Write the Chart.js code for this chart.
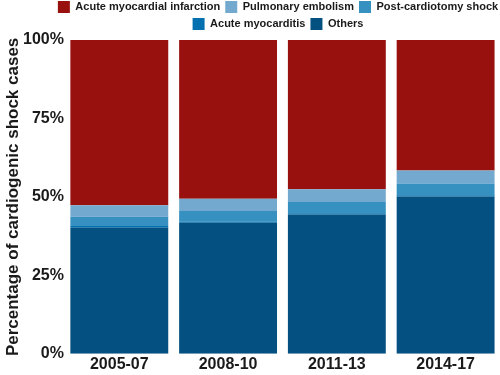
<!DOCTYPE html>
<html><head><meta charset="utf-8">
<script src="https://cdn.jsdelivr.net/npm/chart.js@4/dist/chart.umd.min.js"></script>
<style>html,body{margin:0;padding:0;background:#fff}#wrap{width:500px;height:375px}</style>
</head><body><div id="wrap"><canvas id="c"></canvas></div>
<script>
const categories = ["2005-07", "2008-10", "2011-13", "2014-17"];
const others = [40.2, 41.8, 44.4, 50.1];
const acuteMyocarditis = [0.5, 0.4, 0.4, 0.4];
const postCardiotomy = [3.0, 3.3, 3.6, 3.8];
const pulmonaryEmbolism = [3.6, 3.9, 4.0, 4.1];
const acuteMI = [52.7, 50.6, 47.6, 41.6];
const yTicks = [0, 25, 50, 75, 100];

const ds = (label, data, color) => ({label, data, backgroundColor: color, borderWidth: 0, barPercentage: 0.9, categoryPercentage: 1.0});

const shiftLegend = {
  id: 'shiftLegend',
  afterLayout(chart) { if (chart.legend) { chart.legend.left += 28; chart.legend.right += 28; } }
};

new Chart(document.getElementById('c'), {
  type: 'bar',
  data: {
    labels: categories,
    datasets: [
      ds('Others', others, '#045080'),
      ds('Acute myocarditis', acuteMyocarditis, '#0570b0'),
      ds('Post-cardiotomy shock', postCardiotomy, '#3690c0'),
      ds('Pulmonary embolism', pulmonaryEmbolism, '#74a9cf'),
      ds('Acute myocardial infarction', acuteMI, '#98110e')
    ]
  },
  plugins: [shiftLegend],
  options: {
    responsive: true, maintainAspectRatio: false, animation: false,
    layout: {padding: {left: 0, right: 0, top: -4, bottom: 0}},
    plugins: {
      tooltip: {enabled: false},
      legend: {
        position: 'top', reverse: true,
        labels: {boxWidth: 12, boxHeight: 12, padding: 5, color: '#1a1a1a',
          font: {family: 'Arial, "Liberation Sans", sans-serif', size: 11, weight: 'bold', lineHeight: 1.3}}
      }
    },
    scales: {
      x: {
        stacked: true,
        grid: {display: false, drawTicks: false},
        border: {display: false},
        ticks: {color: '#1a1a1a', padding: 1, font: {family: 'Arial, "Liberation Sans", sans-serif', size: 16, weight: 'bold'}}
      },
      y: {
        stacked: true, min: 0, max: 100,
        afterBuildTicks: s => { s.ticks = yTicks.map(v => ({value: v})); },
        grid: {display: false, drawTicks: false},
        border: {display: false},
        ticks: {color: '#1a1a1a', padding: 1, callback: v => v + '%',
          font: {family: 'Arial, "Liberation Sans", sans-serif', size: 16, weight: 'bold'}},
        title: {display: true, text: 'Percentage of cardiogenic shock cases', color: '#1a1a1a', padding: {top: 5, bottom: 0},
          font: {family: 'Arial, "Liberation Sans", sans-serif', size: 17, weight: 'bold', lineHeight: 1.0}}
      }
    }
  }
});
</script></body></html>
